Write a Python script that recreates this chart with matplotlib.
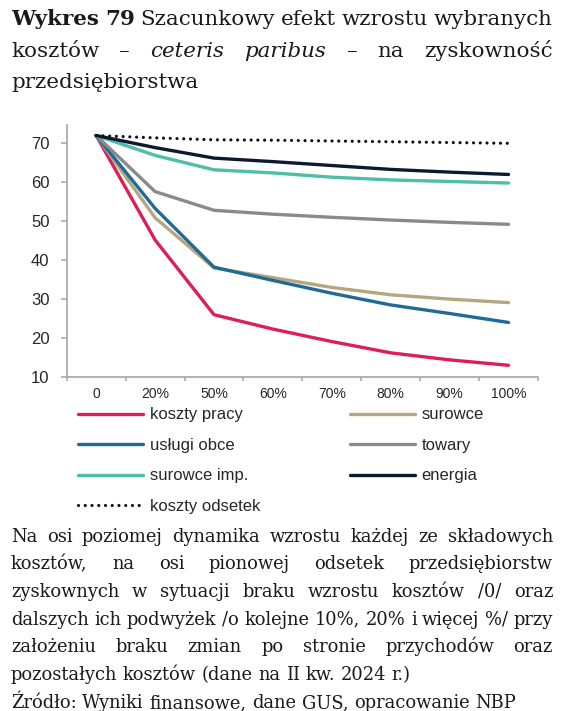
import numpy as np
import matplotlib
matplotlib.use('Agg')
import matplotlib.pyplot as plt

W, H = 561, 711

categories = ['0', '20%', '50%', '60%', '70%', '80%', '90%', '100%']
koszty_pracy = [72, 45.2, 26.0, 22.3, 19.1, 16.2, 14.4, 13.0]
surowce = [72, 50.9, 38.0, 35.5, 33.0, 31.1, 30.0, 29.1]
uslugi_obce = [72, 53.3, 38.2, 34.8, 31.5, 28.5, 26.3, 24.0]
towary = [72, 57.6, 52.8, 51.8, 51.0, 50.3, 49.7, 49.2]
surowce_imp = [72, 66.9, 63.2, 62.4, 61.3, 60.6, 60.2, 59.8]
energia = [72, 68.9, 66.2, 65.3, 64.3, 63.3, 62.6, 62.0]
koszty_odsetek = [72, 71.4, 70.9, 70.8, 70.6, 70.4, 70.2, 70.0]

yticks = [10, 20, 30, 40, 50, 60, 70]

sans = ['Liberation Sans', 'DejaVu Sans']
serif = ['DejaVu Serif']

fig = plt.figure(figsize=(W / 100, H / 100), dpi=100)
renderer = fig.canvas.get_renderer()

ax = fig.add_axes([66.7 / W, 1 - 377 / H, (538 - 66.7) / W, (377 - 125) / H])
x = np.arange(len(categories))

lw = 2.4
series = [
    (koszty_pracy, 'koszty pracy', '#DC1F55'),
    (surowce, 'surowce', '#B3A77F'),
    (uslugi_obce, 'usługi obce', '#1F6A96'),
    (towary, 'towary', '#8A8A8A'),
    (surowce_imp, 'surowce imp.', '#4CBFA6'),
    (energia, 'energia', '#0C1A30'),
]
handles = {}
for vals, name, col in series:
    ln, = ax.plot(x, vals, color=col, lw=lw, solid_capstyle='round', solid_joinstyle='round', label=name)
    handles[name] = ln
dot, = ax.plot(x, koszty_odsetek, color='#111111', lw=2.3, linestyle=(0, (0.01, 2.1)),
               dash_capstyle='round', label='koszty odsetek')
handles['koszty odsetek'] = dot

ax.set_xlim(-0.5, 7.5)
ax.set_ylim(10, 74.7)
ax.set_yticks(yticks)
ax.set_xticks(x)
ax.set_xticklabels(categories)
ax.set_xticks(np.arange(-0.5, 8, 1), minor=True)

for s in ['top', 'right']:
    ax.spines[s].set_visible(False)
for s in ['left', 'bottom']:
    ax.spines[s].set_color('#A6A6A6')
    ax.spines[s].set_linewidth(1.2)

ax.tick_params(axis='y', length=4.3, width=1.1, color='#A6A6A6', pad=8,
               labelsize=12, labelcolor='#262626')
ax.tick_params(axis='x', which='major', length=0, pad=7.5, labelsize=10, labelcolor='#262626')
ax.tick_params(axis='x', which='minor', length=3, width=1.1, color='#A6A6A6')
for lab in ax.get_xticklabels() + ax.get_yticklabels():
    lab.set_family(sans)

order = ['koszty pracy', 'usługi obce', 'surowce imp.', 'koszty odsetek',
         'surowce', 'towary', 'energia']
leg = fig.legend([handles[k] for k in order], order, loc='upper left',
                 bbox_to_anchor=(78 / W, 1 - 407.5 / H), ncol=2, frameon=False,
                 prop={'family': sans, 'size': 12}, handlelength=3.9,
                 handletextpad=0.42, columnspacing=5.35, labelspacing=0.93,
                 borderpad=0, borderaxespad=0)
for t in leg.get_texts():
    t.set_color('#262626')


def draw_line(words, y, x0=11, x1=553, justify=True):
    texts = [fig.text(0, 1 - y / H, w, va='baseline', ha='left', color='#1a1a1a', **p)
             for w, p in words]
    widths = [t.get_window_extent(renderer).width for t in texts]
    if justify and len(texts) > 1:
        gap = (x1 - x0 - sum(widths)) / (len(texts) - 1)
    else:
        p = words[0][1]
        a = fig.text(0, 0, 'a a', **p)
        b = fig.text(0, 0, 'aa', **p)
        gap = a.get_window_extent(renderer).width - b.get_window_extent(renderer).width
        a.remove()
        b.remove()
    xx = x0
    for t, w in zip(texts, widths):
        t.set_x(xx / W)
        xx += w + gap


# fit footer size so the naturally spaced line spans the column
ref_line = 'dalszych ich podwyżek /o kolejne 10%, 20% i więcej %/ przy'
probe = fig.text(0, 0, ref_line, family=serif, size=12)
fs = 12 * 542 / probe.get_window_extent(renderer).width
probe.remove()
ts = fs * 1.2

norm = {'family': serif, 'size': ts}
bold = {'family': serif, 'size': ts, 'weight': 'bold'}
ital = {'family': serif, 'size': ts, 'style': 'italic'}

draw_line([('Wykres', bold), ('79', bold)] +
          [(w, norm) for w in 'Szacunkowy efekt wzrostu wybranych'.split()], 25)
draw_line([('kosztów', norm), ('–', norm), ('ceteris', ital), ('paribus', ital),
           ('–', norm), ('na', norm), ('zyskowność', norm)], 57)
draw_line([('przedsiębiorstwa', norm)], 88, justify=False)

foot = {'family': serif, 'size': fs}
footer_lines = [
    ('Na osi poziomej dynamika wzrostu każdej ze składowych', True),
    ('kosztów, na osi pionowej odsetek przedsiębiorstw', True),
    ('zyskownych w sytuacji braku wzrostu kosztów /0/ oraz', True),
    (ref_line, True),
    ('założeniu braku zmian po stronie przychodów oraz', True),
    ('pozostałych kosztów (dane na II kw. 2024 r.)', False),
    ('Źródło: Wyniki finansowe, dane GUS, opracowanie NBP', False),
]
for i, (line, just) in enumerate(footer_lines):
    draw_line([(w, foot) for w in line.split()], 541.5 + 27.75 * i, justify=just)

fig.savefig('out.png', dpi=100)
